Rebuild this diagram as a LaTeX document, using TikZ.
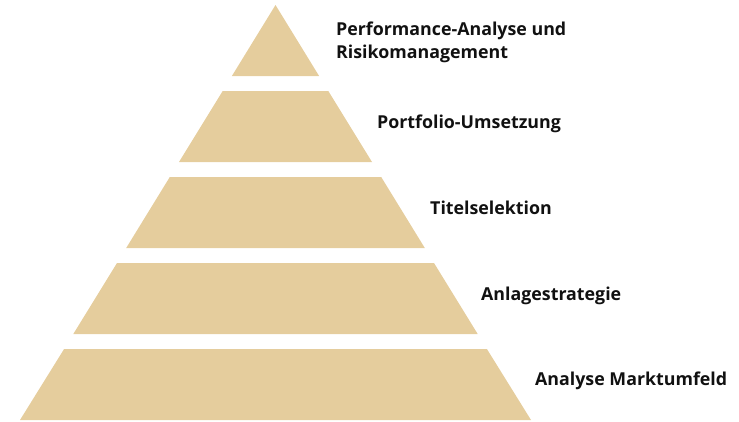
\documentclass[tikz,border=0pt]{standalone}
\usepackage{fontspec}
\setmainfont{Open Sans}
\definecolor{pyr}{HTML}{E5CD9D}
\definecolor{txt}{HTML}{111111}
\begin{document}
\begin{tikzpicture}[x=1pt,y=-1pt,
  layer/.style={fill=pyr},
  lbl/.style={anchor=base west,inner sep=0pt,text=txt,font=\fontsize{17.8}{23}\selectfont\bfseries,align=left}]
\useasboundingbox (0,0) rectangle (739,421);
\fill[layer] (275.5,5) -- (319.1,76) -- (231.9,76) -- cycle;
\fill[layer] (222.7,91) -- (328.3,91) -- (372.0,162) -- (179.0,162) -- cycle;
\fill[layer] (169.8,177) -- (381.2,177) -- (424.8,248) -- (126.2,248) -- cycle;
\fill[layer] (117.0,263) -- (434.0,263) -- (477.7,334) -- (73.3,334) -- cycle;
\fill[layer] (64.1,349) -- (486.9,349) -- (531,420) -- (20,420) -- cycle;
\node[lbl] (l1) at (336,58) {Performance-Analyse und\\Risikomanagement};
\node[lbl] (l2) at (377,128) {Portfolio-Umsetzung};
\node[lbl] (l3) at (430,214) {Titelselektion};
\node[lbl] (l4) at (481,300) {Anlagestrategie};
\node[lbl] (l5) at (535,385) {Analyse Marktumfeld};
\end{tikzpicture}
\end{document}
